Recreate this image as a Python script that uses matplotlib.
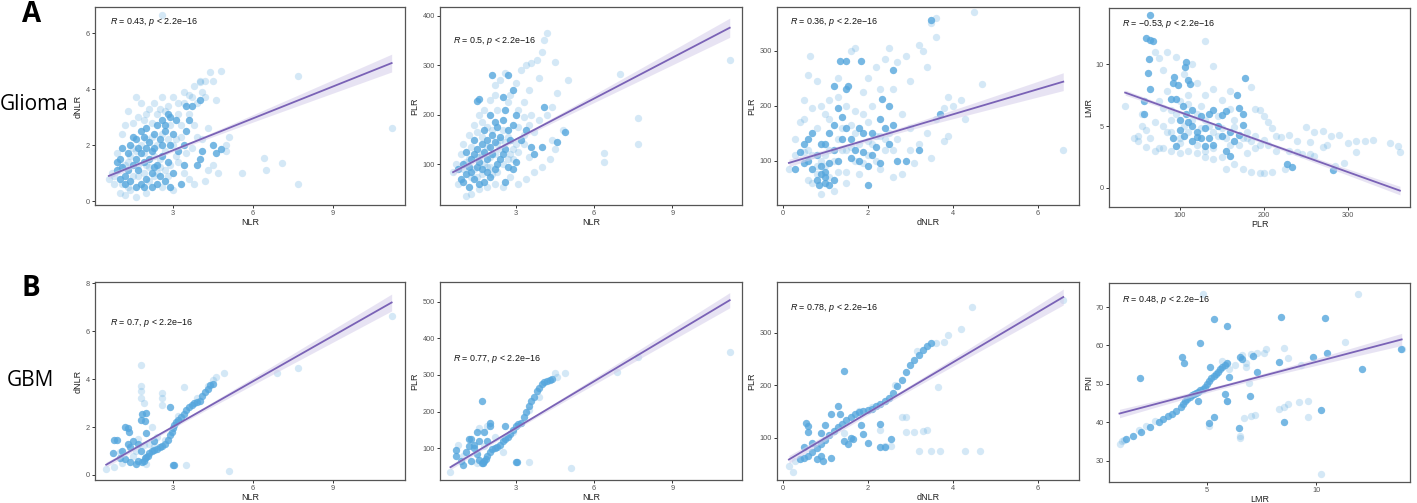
import numpy as np
import matplotlib
matplotlib.use('Agg')
import matplotlib.pyplot as plt

plt.rcParams['font.family'] = ['Liberation Sans', 'DejaVu Sans']
plt.rcParams['mathtext.fontset'] = 'custom'
plt.rcParams['mathtext.it'] = 'Liberation Sans:italic'
plt.rcParams['mathtext.rm'] = 'Liberation Sans'

# ---------------- data ----------------
# Glioma, NLR vs dNLR
a1_dark = [(1.0,1.5),(1.1,1.2),(1.2,0.9),(1.3,1.7),(1.4,2.0),(1.5,2.3),(1.6,2.2),(1.7,1.9),(1.8,2.5),(1.9,2.3),
           (2.0,2.6),(2.1,2.1),(2.2,1.8),(2.3,2.4),(2.4,2.7),(2.5,2.2),(2.6,2.9),(2.7,2.5),(2.8,3.1),(2.9,3.0),
           (3.0,2.4),(2.9,2.0),(2.6,1.6),(2.4,1.3),(2.2,1.0),(2.0,0.8),(1.8,0.6),(1.6,0.5),(1.4,0.7),(1.2,0.6),
           (1.0,0.8),(0.9,1.1),(1.5,1.3),(1.7,1.1),(1.9,1.4),(2.1,1.5),(2.3,1.2),(2.5,0.9),(2.7,0.7),(2.9,0.5),
           (3.0,1.0),(3.2,1.8),(3.4,1.3),(3.5,2.5),(3.6,2.9),(3.7,3.4),(3.5,3.4),(3.9,1.3),(4.0,1.5),(4.1,1.8),
           (4.5,2.0),(4.6,1.7),(4.8,1.85),(3.3,0.6),(1.3,1.1),(1.1,1.9),(0.9,1.4),(2.0,1.9),(1.8,1.7),(1.6,1.5),
           (2.4,0.6),(2.6,2.0),(2.8,1.4),(3.1,2.9),(3.4,2.0),(4.0,3.6),(2.7,2.7),(2.3,1.9),(1.9,0.5),(2.2,0.5)]
a1_light = [(0.6,0.8),(0.8,0.6),(1.0,0.3),(1.2,0.2),(1.3,3.2),(1.6,3.7),(1.9,2.9),(2.1,3.3),(2.3,3.5),(2.5,3.3),
            (2.6,3.7),(2.8,3.4),(3.0,3.7),(3.2,3.5),(3.4,3.9),(3.6,3.8),(3.8,4.1),(4.0,4.25),(4.2,4.3),(4.4,4.6),
            (4.8,4.65),(4.5,4.3),(4.1,3.9),(3.9,3.5),(3.6,3.1),(3.3,2.7),(3.1,2.2),(3.5,1.7),(3.7,1.9),(3.9,2.3),
            (4.1,2.2),(4.3,2.6),(4.5,1.3),(4.7,1.0),(5.0,2.0),(5.1,2.3),(5.0,1.8),(4.2,0.7),(3.8,0.6),(3.6,0.8),
            (3.0,0.4),(2.6,0.5),(2.0,0.3),(1.6,0.15),(1.4,0.4),(0.7,1.0),(0.9,1.7),(1.1,2.4),(1.2,2.7),(1.5,2.8),
            (1.7,3.0),(2.0,3.1),(2.2,2.8),(2.4,3.1),(2.7,3.2),(2.9,2.7),(3.2,3.1),(3.4,3.5),(2.1,1.2),(2.5,1.5),
            (1.7,0.9),(1.3,1.4),(2.8,0.9),(3.2,1.4),(3.4,1.0),(3.8,2.7),(4.3,1.1),(4.6,3.6),(4.2,3.7),(6.4,1.55),
            (6.5,1.1),(7.1,1.35),(7.7,4.45),(7.7,0.6),(11.2,2.6),(2.6,6.65),(4.0,4.3),(3.7,3.7),(1.8,3.5),(5.6,1.0),
            (1.1,0.6),(1.3,0.5),(1.5,0.9),(1.7,1.3),(1.9,1.0),(2.1,0.7),(2.3,0.9),(2.5,1.2),(2.7,1.1),(2.9,1.3),
            (1.2,1.3),(1.4,1.6),(1.6,1.8),(1.8,2.0),(2.0,2.2),(2.2,2.3),(2.4,2.0),(2.6,2.4),(2.8,2.2),(3.0,2.0),
            (1.5,1.9),(1.9,1.7),(2.3,1.6),(2.7,1.8),(3.1,1.6),(3.3,2.3),(1.0,1.2),(0.8,0.9),(2.0,1.3),(2.4,1.0)]

# Glioma, NLR vs PLR
a2_dark = [(1.0,65),(1.1,80),(1.2,95),(1.3,110),(1.4,120),(1.5,130),(1.6,105),(1.7,140),(1.8,125),(1.9,150),
           (2.0,135),(2.1,160),(2.2,145),(2.3,175),(2.4,155),(2.5,190),(2.6,210),(2.7,170),(2.8,150),(2.9,180),
           (3.0,200),(2.6,130),(2.4,110),(2.2,90),(2.0,75),(1.8,65),(1.6,60),(1.4,70),(1.2,55),(0.9,70),
           (0.8,90),(1.0,100),(1.3,85),(1.5,95),(1.7,90),(1.9,110),(2.1,120),(2.3,100),(2.5,120),(2.7,95),
           (2.9,90),(2.6,65),(3.0,105),(3.2,150),(3.4,170),(3.6,135),(3.7,120),(4.0,135),(4.6,145),(4.9,165),
           (1.5,228),(1.6,232),(2.1,280),(2.5,235),(2.7,280),(2.9,250),(2.2,185),(1.8,170),(1.4,150),(1.1,125),
           (2.0,200),(4.1,215),(1.9,85)]
a2_light = [(0.6,85),(0.7,100),(0.9,120),(1.0,140),(1.2,160),(1.4,180),(1.6,200),(1.8,210),(2.0,230),(2.2,260),
            (2.4,270),(2.6,285),(2.8,240),(3.0,265),(3.2,290),(3.4,300),(3.6,305),(3.8,310),(4.0,328),(4.1,352),
            (4.2,365),(4.5,307),(3.9,275),(3.5,250),(3.3,225),(3.1,210),(3.3,195),(3.5,180),(3.7,165),(3.9,190),
            (4.2,200),(4.4,215),(4.6,245),(5.0,270),(4.8,170),(4.5,130),(4.3,110),(4.0,95),(3.7,85),(3.4,70),
            (3.1,60),(2.8,75),(2.5,55),(2.2,60),(1.9,55),(1.6,50),(1.3,40),(1.1,35),(0.8,60),(1.5,165),
            (1.7,185),(1.9,175),(2.3,210),(2.7,225),(3.1,175),(3.3,140),(3.5,115),(2.9,130),(2.4,150),(2.0,95),
            (1.7,120),(1.3,135),(7.0,283),(7.7,193),(7.7,140),(6.4,122),(6.4,105),(11.2,310),(2.2,240),(4.4,150),
            (3.6,200),(1.0,90),(1.2,110),(1.4,90),(1.6,115),(1.8,100),(2.0,115),(2.2,120),(2.4,130),(2.6,145),
            (2.8,120),(3.0,140),(1.3,75),(1.5,75),(1.7,80),(1.9,95),(2.1,80),(2.3,85),(2.5,100),(2.7,110),
            (2.9,110),(1.1,105),(1.5,115),(1.9,135),(2.3,140),(2.7,155),(3.1,125),(1.7,155),(2.1,170),(2.5,170),
            (3.3,160)]

# Glioma, dNLR vs PLR
a3_dark = [(0.3,85),(0.4,115),(0.5,130),(0.6,100),(0.7,85),(0.8,65),(0.9,75),(1.0,60),(1.1,55),(1.0,70),
           (0.9,90),(0.8,110),(0.6,140),(0.5,95),(0.7,150),(1.0,130),(1.1,150),(1.2,165),(1.3,195),(1.4,180),
           (1.5,160),(1.6,140),(1.7,120),(1.8,100),(1.9,115),(2.0,90),(2.1,150),(2.2,125),(2.3,175),(2.4,160),
           (2.5,130),(2.6,165),(2.7,100),(2.9,100),(2.3,95),(2.0,55),(1.3,100),(1.2,120),(1.4,140),(1.5,230),
           (1.55,235),(1.2,235),(1.35,282),(1.5,281),(1.85,281),(2.35,212),(2.5,200),(2.6,265),(1.8,160),(1.6,105),
           (1.1,95),(0.9,130),(1.9,150),(2.1,110),(3.5,355),(3.2,120),(3.7,185),(1.0,80),(0.85,55),(1.2,65)]
a3_light = [(0.15,85),(0.3,140),(0.4,170),(0.5,210),(0.6,255),(0.65,290),(0.8,245),(0.9,200),(1.0,185),(1.1,210),
            (1.3,250),(1.6,300),(1.7,305),(1.9,225),(2.0,250),(2.2,270),(2.4,285),(2.5,305),(2.7,280),(2.9,290),
            (3.0,245),(3.2,310),(3.3,300),(3.4,270),(3.5,350),(3.6,325),(3.6,360),(4.5,370),(4.7,240),(4.2,210),
            (4.0,200),(3.8,195),(3.6,175),(3.4,150),(3.2,130),(3.0,120),(3.8,135),(3.9,145),(4.3,175),(3.5,105),
            (3.1,95),(2.8,75),(2.6,70),(2.3,85),(1.8,75),(1.5,60),(1.2,45),(0.9,40),(0.6,65),(0.3,110),
            (0.5,175),(0.7,195),(1.1,175),(1.3,215),(1.5,200),(1.7,190),(2.1,200),(2.3,230),(2.6,230),(2.8,185),
            (3.0,160),(2.7,140),(2.4,120),(2.0,135),(1.6,165),(1.4,120),(0.8,160),(6.6,120),(3.9,215),(1.9,185),
            (2.2,100),(0.5,115),(0.6,120),(0.7,110),(0.8,90),(0.9,100),(1.0,110),(1.1,120),(1.2,100),(1.3,140),
            (1.4,160),(1.5,120),(1.6,125),(1.7,150),(1.8,130),(1.9,95),(2.0,110),(2.1,130),(2.2,145),(2.4,140),
            (2.6,120),(0.7,60),(0.8,75),(1.0,90),(1.1,70),(1.3,80),(1.5,80),(1.7,100),(2.0,170),(2.3,145),
            (2.5,150)]

# Glioma, PLR vs LMR
a4_dark = [(65,14),(60,12.1),(65,12),(68,11.9),(63,10.4),(62,9.3),(65,8),(57,7),(58,6),(93,9),
           (107,10.2),(106,9.8),(110,8.7),(112,8.4),(98,8.3),(92,8.5),(90,7.2),(96,7.2),(104,6.6),(107,6),
           (100,5.5),(110,5.3),(115,5),(120,4.5),(125,4),(130,3.4),(105,4.2),(100,4.7),(92,4),(95,3.4),
           (135,6),(140,6.3),(150,5.9),(155,6.2),(160,4.5),(165,3.8),(170,4.3),(175,5.1),(170,6.5),(168,7.5),
           (175,6),(178,8.9),(145,5),(150,4.2),(155,3.0),(130,4.8),(125,5.8),(135,4.0),(115,6.3),(120,4.1),
           (228,1.9),(234,1.7),(282,1.4),(140,3.5),(115,3.8),(160,2.6)]
a4_light = [(35,6.6),(45,4.0),(50,3.8),(55,6.0),(60,4.7),(70,5.3),(75,3.2),(80,6.5),(85,7.8),(80,9.5),
            (75,10.5),(70,11),(85,11),(95,10.6),(115,10),(130,11.9),(120,8.5),(130,7.5),(140,8.0),(150,7.1),
            (160,7.8),(185,8.2),(190,6.4),(195,6.3),(200,5.8),(205,5.3),(210,4.8),(215,4.2),(220,4.1),(230,4.3),
            (240,3.8),(250,4.9),(255,3.7),(260,4.5),(270,4.6),(280,4.2),(290,4.3),(300,3.6),(310,3.8),(320,3.8),
            (330,3.9),(350,3.6),(360,3.4),(362,2.9),(310,2.9),(295,2.0),(285,1.8),(270,3.3),(255,2.7),(240,2.9),
            (225,1.5),(210,1.3),(200,1.2),(195,1.2),(185,1.3),(175,1.5),(165,1.9),(155,1.5),(150,2.5),(140,2.3),
            (130,2.5),(120,2.8),(110,3.0),(100,2.8),(90,3.0),(80,3.2),(70,3.0),(60,3.3),(50,4.2),(55,5.0),
            (65,4.0),(75,7.0),(90,6.3),(100,7.0),(110,7.5),(125,6.6),(145,4.2),(165,4.9),(180,4.0),(190,3.2),
            (205,3.5),(215,3.0),(230,3.0),(245,2.7),(260,2.6),(275,3.5),(105,9.2),(140,9.9),(160,6.4),(200,3.9),
            (180,2.8),(80,5.0),(85,4.5),(90,5.5),(95,6.0),(100,4.0),(105,5.0),(110,4.5),(115,5.5),(120,6.0),
            (125,4.8),(130,5.5),(135,5.0),(140,4.5),(145,5.8),(150,4.8),(155,4.0),(160,3.5),(165,5.5),(170,3.5),
            (175,4.0),(180,4.5),(185,3.8),(190,4.2),(195,3.5),(120,3.5),(130,3.0),(140,3.2),(100,3.6),(90,4.5),
            (110,6.8)]

# GBM, NLR vs dNLR
b1_dark = [(1.85,0.55),(1.9,0.6),(1.95,0.7),(2.0,0.75),(2.05,0.8),(2.1,0.9),(2.2,1.0),(2.3,1.05),(2.4,1.1),(2.5,1.15),
           (2.6,1.2),(2.7,1.3),(2.8,1.45),(2.9,1.65),(2.95,1.8),(3.0,1.95),(3.05,2.1),(3.1,2.2),(3.2,2.3),(3.3,2.4),
           (3.4,2.55),(3.5,2.7),(3.6,2.85),(3.7,2.9),(3.8,3.0),(3.9,3.05),(4.0,3.1),(4.1,3.3),(4.2,3.45),(4.3,3.6),
           (4.4,3.75),(4.5,3.8),(0.75,0.9),(0.8,1.45),(0.9,1.45),(1.2,2.0),(1.3,1.95),(1.35,1.8),(1.5,1.4),(1.3,1.3),
           (1.4,1.15),(1.1,1.0),(1.0,0.7),(1.2,0.65),(1.4,0.55),(1.6,0.45),(1.7,1.3),(1.8,2.3),(1.85,2.55),(2.0,2.6),
           (1.95,2.25),(2.0,1.75),(2.3,1.4),(2.9,2.85),(3.0,0.4),(3.05,0.4),(1.8,1.0),(1.7,0.6)]
b1_light = [(0.5,0.25),(0.8,0.35),(1.0,0.95),(1.1,0.5),(1.5,0.8),(1.6,1.0),(1.7,1.5),(1.8,3.2),(1.8,3.5),(1.8,3.7),
            (1.8,4.6),(1.9,3.0),(2.6,2.9),(2.6,3.2),(2.6,3.4),(2.2,2.0),(2.4,1.6),(2.1,1.3),(3.5,0.4),(3.4,3.65),
            (4.6,4.1),(4.5,3.95),(4.9,4.25),(5.1,0.15),(6.9,4.25),(7.7,4.45),(11.2,6.65),(2.3,1.2),(2.7,1.45),(3.2,2.45),
            (3.9,3.2),(4.3,3.7),(2.0,0.45),(1.9,1.25)]

# GBM, NLR vs PLR
b2_dark = [(0.7,95),(0.7,80),(1.0,55),(0.9,65),(1.1,90),(1.2,125),(1.3,125),(1.4,110),(1.5,145),(1.6,120),
           (1.4,100),(1.5,85),(1.8,145),(1.7,228),(2.0,170),(2.0,160),(2.6,160),(1.6,68),(1.3,65),(1.7,60),
           (3.0,63),(3.05,63),(1.9,120),(1.2,105),(1.75,60),(1.8,65),(1.85,72),(1.9,80),(2.0,90),(2.1,98),
           (2.2,100),(2.3,103),(2.4,110),(2.5,120),(2.6,125),(2.7,132),(2.8,140),(2.9,150),(3.0,160),(3.1,165),
           (3.2,170),(3.3,185),(3.4,200),(3.5,215),(3.6,230),(3.7,240),(3.8,255),(3.9,265),(4.0,275),(4.1,280),
           (4.2,283),(4.3,285),(4.4,290)]
b2_light = [(0.5,35),(0.8,110),(1.5,60),(1.6,155),(1.9,160),(2.5,90),(3.5,62),(4.5,305),(4.9,305),(5.1,45),
            (6.9,308),(7.7,350),(11.2,362),(1.8,105),(2.2,130),(3.9,240),(4.6,295),(1.0,80),(2.9,145),(3.5,205)]

# GBM, dNLR vs PLR
b3_dark = [(0.4,60),(0.5,62),(0.6,65),(0.7,72),(0.8,80),(0.9,88),(1.0,95),(1.1,105),(1.2,112),(1.3,120),
           (1.4,127),(1.5,133),(1.6,140),(1.7,145),(1.8,148),(1.9,150),(2.0,152),(2.1,155),(2.2,160),(2.3,165),
           (2.4,170),(2.5,175),(2.6,185),(2.7,198),(2.8,210),(2.9,225),(3.0,238),(3.1,248),(3.2,258),(3.3,268),
           (3.4,275),(3.5,280),(0.55,128),(0.6,122),(0.6,110),(0.5,82),(0.7,90),(0.8,60),(0.9,65),(0.95,55),
           (1.0,125),(1.15,145),(1.3,160),(1.35,145),(1.45,228),(1.45,93),(1.55,88),(1.6,100),(1.65,98),(1.85,125),
           (1.9,107),(2.0,90),(2.3,126),(2.55,98),(1.15,62),(0.9,108),(2.3,82),(2.4,82)]
b3_light = [(0.15,45),(0.25,35),(2.3,115),(2.4,85),(2.55,85),(2.8,140),(2.9,140),(2.9,110),(3.1,110),(3.3,112),
            (3.4,115),(3.2,75),(3.5,75),(3.7,75),(4.3,75),(4.65,75),(3.65,197),(3.6,280),(3.8,282),(3.9,295),
            (4.2,307),(4.45,350),(3.15,265),(2.65,200),(1.45,108),(1.8,150),(2.1,158),(0.3,55),(6.6,362)]

# GBM, LMR vs PNI
b4_dark = [(1.3,35.5),(1.6,36.5),(2.0,37.5),(2.4,38.8),(2.8,40),(3.0,40.8),(3.2,41.5),(3.4,42.2),(3.6,43),(3.8,44),
           (3.9,44.8),(4.0,45.5),(4.1,46),(4.2,46.5),(4.3,47),(4.4,47.3),(4.5,47.6),(4.6,48),(4.7,48.3),(4.8,48.6),
           (4.9,49.2),(5.0,50),(5.1,50.8),(5.2,51.5),(5.3,52),(5.4,52.5),(5.5,53),(5.6,53.8),(5.7,54.5),(5.8,55),
           (5.9,55.5),(1.95,51.6),(3.85,57.1),(3.93,55.5),(4.7,60.6),(4.6,45.5),(5.3,66.8),(5.9,65.1),(5.15,54.5),(6.5,57.1),
           (6.6,56.5),(7.1,57.3),(7.3,53.1),(6.95,46.8),(5.8,47.3),(5.9,45.6),(5.3,41.3),(5.1,39.8),(6.45,38.6),(8.3,55.8),
           (8.4,67.4),(8.5,40.0),(9.85,57),(10.4,67.3),(10.5,58),(12.1,53.8),(13.85,59),(10.2,43.3),(6.0,51.7)]
b4_light = [(1.0,34.2),(1.1,35),(1.2,35.4),(1.9,38),(2.2,39),(2.6,40.2),(4.8,73.5),(11.9,73.4),(10.2,26.5),(11.3,61),
            (8.5,59.3),(8.7,56.7),(9.3,55),(9.2,45.2),(9.6,45.5),(9.6,41.3),(8.7,44.8),(8.5,44),(8.3,43.5),(7.6,58),
            (7.3,58),(7.0,57.8),(6.9,50.3),(6.8,54.5),(6.8,55.5),(6.5,35.8),(6.5,36.5),(6.7,41),(7.0,41.5),(7.2,42),
            (5.1,39),(5.9,45.5),(6.3,55),(6.6,57.5),(7.7,59),(13.9,59),(5.7,56),(6.0,54)]

# fitted lines (intercept, slope) and the correlation labels
fits = [(0.672, 0.380), (67.5, 27.55), (92.6, 22.9), (8.557, -0.02428),
        (0.112, 0.6324), (27.15, 42.58), (51.1, 48.06), (40.76, 1.498)]
r_labels = ['0.43', '0.5', '0.36', '\u22120.53', '0.7', '0.77', '0.78', '0.48']
x_labels = ['NLR', 'NLR', 'dNLR', 'PLR', 'NLR', 'NLR', 'dNLR', 'LMR']
y_labels = ['dNLR', 'PLR', 'PLR', 'LMR', 'dNLR', 'PLR', 'PLR', 'PNI']
x_ticks = [[3, 6, 9], [3, 6, 9], [0, 2, 4, 6], [100, 200, 300],
           [3, 6, 9], [3, 6, 9], [0, 2, 4, 6], [5, 10]]
y_ticks = [[0, 2, 4, 6], [100, 200, 300, 400], [100, 200, 300], [0, 5, 10],
           [0, 2, 4, 6, 8], [100, 200, 300, 400, 500], [100, 200, 300], [30, 40, 50, 60, 70]]

# ---------------- layout ----------------
x_lims = [(0.08, 11.7), (0.1, 11.67), (-0.13, 6.97), (15.8, 374),
          (0.08, 11.7), (0.1, 11.67), (-0.13, 6.97), (0.52, 14.28)]
y_lims = [(-0.14, 6.93), (17.6, 418), (19.5, 379.5), (-1.56, 14.56),
          (-0.21, 8.05), (13.5, 553.7), (19.2, 397), (24.4, 76.3)]
label_pos = [(0.048, 0.924), (0.043, 0.83), (0.043, 0.924), (0.043, 0.92),
             (0.048, 0.794), (0.044, 0.613), (0.043, 0.867), (0.043, 0.915)]
W, H = 1417, 503
boxes = [(95, 7, 310, 198), (440, 7, 302, 198), (777, 7, 302, 198), (1109, 8, 301, 199),
         (95, 282, 310, 198), (440, 282, 302, 198), (777, 282, 302, 198), (1109, 283, 301, 199)]

darks = [a1_dark, a2_dark, a3_dark, a4_dark, b1_dark, b2_dark, b3_dark, b4_dark]
lights = [a1_light, a2_light, a3_light, a4_light, b1_light, b2_light, b3_light, b4_light]

point_col = '#55A6DD'
line_col = '#7A62B6'
band_col = '#D5CDEA'

fig = plt.figure(figsize=(W / 100, H / 100), dpi=100)

for i in range(8):
    l, t, w, h = boxes[i]
    ax = fig.add_axes([l / W, (H - t - h) / H, w / W, h / H])
    dk = np.array(darks[i])
    lt = np.array(lights[i])
    ax.scatter(lt[:, 0], lt[:, 1], s=28, color=point_col, alpha=0.25, linewidths=0, zorder=2)
    ax.scatter(dk[:, 0], dk[:, 1], s=28, color=point_col, alpha=0.8, linewidths=0, zorder=2)

    # regression line with its confidence band
    allp = np.vstack([dk, lt])
    xs, ys = allp[:, 0], allp[:, 1]
    b0, b1 = fits[i]
    n = len(xs)
    resid = ys - (b0 + b1 * xs)
    s = np.sqrt(np.sum(resid ** 2) / (n - 2))
    xbar = xs.mean()
    sxx = np.sum((xs - xbar) ** 2)
    gx = np.linspace(xs.min(), xs.max(), 100)
    gy = b0 + b1 * gx
    se = s * np.sqrt(1.0 / n + (gx - xbar) ** 2 / sxx) * 0.32
    ax.fill_between(gx, gy - 1.97 * se, gy + 1.97 * se, color=band_col, alpha=0.55, linewidth=0, zorder=3)
    ax.plot(gx, gy, color=line_col, linewidth=1.3, zorder=4)

    ax.set_xlim(*x_lims[i])
    ax.set_ylim(*y_lims[i])
    ax.set_xticks(x_ticks[i])
    ax.set_yticks(y_ticks[i])
    ax.tick_params(length=2.5, width=0.7, colors='#333333', labelsize=5.3, labelcolor='#555555', pad=1.2)
    for sp in ax.spines.values():
        sp.set_color('#555555')
        sp.set_linewidth(0.9)
    ax.set_xlabel(x_labels[i], fontsize=6.5, labelpad=0.5, color='#222222')
    ax.set_ylabel(y_labels[i], fontsize=6.5, labelpad=2, color='#222222')
    ax.text(label_pos[i][0], label_pos[i][1],
            '$R$ = ' + r_labels[i] + ', $p$ < 2.2e\u221216',
            transform=ax.transAxes, fontsize=6.4, va='center', ha='left', color='#111111')

# row labels
fig.text(22 / W, 1 - 15 / H, 'A', fontsize=20, fontweight='bold', va='center', ha='left', family='Open Sans')
fig.text(22 / W, 1 - 288 / H, 'B', fontsize=20, fontweight='bold', va='center', ha='left', family='Open Sans')
fig.text(0 / W, 1 - 105 / H, 'Glioma', fontsize=15, va='center', ha='left', family='Open Sans')
fig.text(7 / W, 1 - 381 / H, 'GBM', fontsize=15, va='center', ha='left', family='Open Sans')

fig.savefig('out.png', dpi=100)
